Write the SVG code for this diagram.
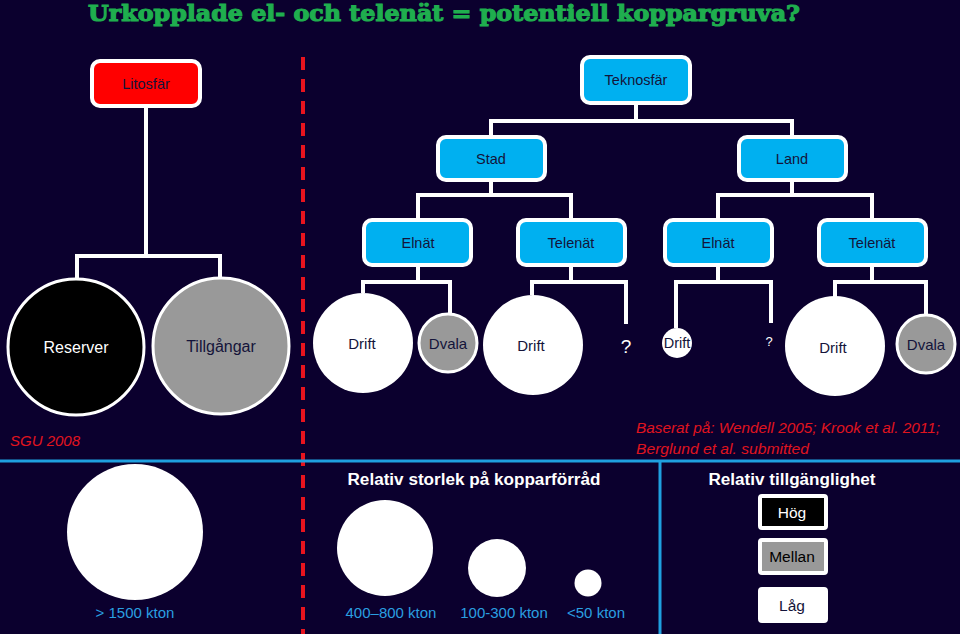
<svg xmlns="http://www.w3.org/2000/svg" width="960" height="634" viewBox="0 0 960 634">
<style>
.bg{fill:#0b002e}
.box{fill:#00b0f0;stroke:#ffffff;stroke-width:4}
.lbl{font-family:"Liberation Sans",Arial,sans-serif;font-size:14.5px;fill:#14143a;text-anchor:middle;dominant-baseline:central}
.wl{fill:#ffffff}
.conn{fill:none;stroke:#ffffff;stroke-width:4;stroke-linejoin:miter}
.ref{font-family:"Liberation Sans",Arial,sans-serif;font-size:15px;font-style:italic;fill:#e0141e}
.kt{font-family:"Liberation Sans",Arial,sans-serif;font-size:15px;fill:#2a9fe0;text-anchor:middle}
.hd{font-family:"Liberation Sans",Arial,sans-serif;font-size:16px;font-weight:bold;fill:#ffffff;text-anchor:middle}
.leg{stroke:#ffffff;stroke-width:4}
</style>
<rect class="bg" x="0" y="0" width="960" height="634"/>
<text x="88" y="21" font-family="'DejaVu Serif',serif" font-weight="bold" font-size="23" fill="#1fae4e" stroke="#1fae4e" stroke-width="1.2" textLength="712" lengthAdjust="spacingAndGlyphs">Urkopplade el- och telenät = potentiell koppargruva?</text>

<line x1="303" y1="57" x2="303" y2="634" stroke="#e8141e" stroke-width="4" stroke-dasharray="13 9"/>
<line x1="0" y1="461" x2="960" y2="461" stroke="#1fa0e0" stroke-width="3"/>
<line x1="660" y1="461" x2="660" y2="634" stroke="#1fa0e0" stroke-width="3"/>

<g id="connectors">
<path class="conn" d="M146 108 V256 M77 284 V256 H220 V282"/>
<path class="conn" d="M636 105 V121 M491 135 V121 H792 V135"/>
<path class="conn" d="M491 182 V195 M418 218 V195 H571 V218"/>
<path class="conn" d="M792 182 V195 M718 218 V195 H872 V218"/>
<path class="conn" d="M418 267 V282 M363 293 V282 H450 V313"/>
<path class="conn" d="M571 267 V282 M532 295 V282 H626 V324"/>
<path class="conn" d="M718 267 V282 M676 328 V282 H771 V323"/>
<path class="conn" d="M872 267 V282 M835 297 V282 H926 V315"/>
</g>

<g id="litosfar"><rect x="92" y="61" width="108" height="45" rx="8" fill="#ff0000" stroke="#ffffff" stroke-width="4"/><text class="lbl" x="146" y="84">Litosfär</text></g>
<g id="teknosfar"><rect class="box" x="582" y="57" width="108" height="46" rx="8"/><text class="lbl" x="636" y="80">Teknosfär</text></g>
<g id="stad"><rect class="box" x="438" y="137" width="107" height="43" rx="8"/><text class="lbl" x="491" y="159">Stad</text></g>
<g id="land"><rect class="box" x="739" y="137" width="107" height="43" rx="8"/><text class="lbl" x="792" y="159">Land</text></g>
<g id="elnat1"><rect class="box" x="364" y="220" width="107" height="45" rx="8"/><text class="lbl" x="418" y="243">Elnät</text></g>
<g id="telenat1"><rect class="box" x="518" y="220" width="107" height="45" rx="8"/><text class="lbl" x="571" y="243">Telenät</text></g>
<g id="elnat2"><rect class="box" x="665" y="220" width="107" height="45" rx="8"/><text class="lbl" x="718" y="243">Elnät</text></g>
<g id="telenat2"><rect class="box" x="819" y="220" width="107" height="45" rx="8"/><text class="lbl" x="872" y="243">Telenät</text></g>

<g id="reserver"><circle cx="76" cy="347" r="68" fill="#000000" stroke="#ffffff" stroke-width="3"/><text class="lbl wl" x="76" y="347" style="font-size:16px">Reserver</text></g>
<g id="tillgangar"><circle cx="221" cy="346" r="68" fill="#999999" stroke="#ffffff" stroke-width="3"/><text class="lbl" x="221" y="346" style="font-size:16px">Tillgångar</text></g>

<g id="drift1"><circle cx="363" cy="343" r="50" fill="#ffffff"/><text class="lbl" x="362" y="343" style="font-size:15px">Drift</text></g>
<g id="dvala1"><circle cx="448" cy="343" r="29" fill="#999999" stroke="#ffffff" stroke-width="3"/><text class="lbl" x="448" y="343" style="font-size:15px">Dvala</text></g>
<g id="drift2"><circle cx="533" cy="345" r="50" fill="#ffffff"/><text class="lbl" x="531" y="345" style="font-size:15px">Drift</text></g>
<g id="q1"><text class="lbl wl" x="626" y="346" style="font-size:19px">?</text></g>
<g id="drift3"><circle cx="677" cy="343" r="15" fill="#ffffff"/><text class="lbl" x="677" y="343">Drift</text></g>
<g id="q2"><text class="lbl wl" x="769" y="341" style="font-size:13px">?</text></g>
<g id="drift4"><circle cx="835" cy="346" r="50" fill="#ffffff"/><text class="lbl" x="833" y="347" style="font-size:15px">Drift</text></g>
<g id="dvala2"><circle cx="926" cy="344" r="29" fill="#999999" stroke="#ffffff" stroke-width="3"/><text class="lbl" x="926" y="344" style="font-size:15px">Dvala</text></g>

<text class="ref" x="10" y="446">SGU 2008</text>
<text class="ref" x="636" y="433" textLength="304" lengthAdjust="spacingAndGlyphs">Baserat på: Wendell 2005; Krook et al. 2011;</text>
<text class="ref" x="636" y="454" textLength="173" lengthAdjust="spacingAndGlyphs">Berglund et al. submitted</text>

<g id="legend-size">
<circle cx="135" cy="532" r="68" fill="#ffffff"/>
<text class="kt" x="135" y="618">&gt; 1500 kton</text>
<text class="hd" x="474" y="485" textLength="253" lengthAdjust="spacingAndGlyphs">Relativ storlek på kopparförråd</text>
<circle cx="385" cy="548" r="48" fill="#ffffff"/>
<circle cx="497" cy="568" r="29" fill="#ffffff"/>
<circle cx="588" cy="583" r="13.5" fill="#ffffff"/>
<text class="kt" x="391" y="618">400–800 kton</text>
<text class="kt" x="504" y="618">100-300 kton</text>
<text class="kt" x="596" y="618">&lt;50 kton</text>
</g>

<g id="legend-access">
<text class="hd" x="792" y="485" textLength="167" lengthAdjust="spacingAndGlyphs">Relativ tillgänglighet</text>
<g id="hog"><rect class="leg" x="760" y="496" width="66" height="32" rx="2" fill="#000000"/><text class="lbl wl" x="792" y="512" style="font-size:15.5px">Hög</text></g>
<g id="mellan"><rect class="leg" x="760" y="540" width="66" height="33" rx="2" fill="#999999"/><text class="lbl" x="792" y="556" style="font-size:15.5px;fill:#000">Mellan</text></g>
<g id="lag"><rect class="leg" x="760" y="589" width="66" height="32" rx="2" fill="#ffffff"/><text class="lbl" x="792" y="605" style="font-size:15.5px">Låg</text></g>
</g>
</svg>
